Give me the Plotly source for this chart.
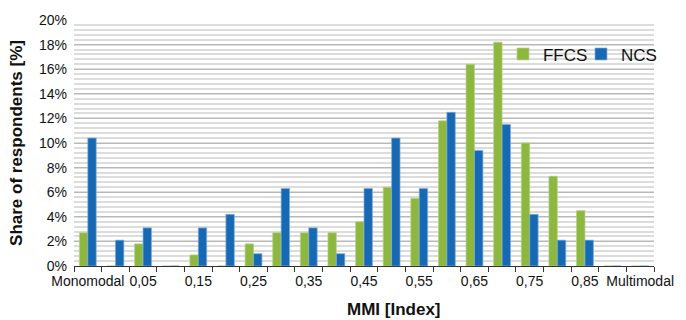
import plotly.graph_objects as go

categories = ["Monomodal", "0", "0,05", "0,1", "0,15", "0,2", "0,25", "0,3", "0,35", "0,4",
              "0,45", "0,5", "0,55", "0,6", "0,65", "0,7", "0,75", "0,8", "0,85", "0,9", "Multimodal"]
ffcs = [2.7, 0, 1.8, 0, 0.9, 0, 1.8, 2.7, 2.7, 2.7, 3.6, 6.4, 5.5, 11.8, 16.4, 18.2, 10.0, 7.3, 4.5, 0, 0]
ncs = [10.4, 2.1, 3.1, 0, 3.1, 4.2, 1.0, 6.3, 3.1, 1.0, 6.3, 10.4, 6.3, 12.5, 9.4, 11.5, 4.2, 2.1, 2.1, 0, 0]
tick_text = [c if i % 2 == 0 else "" for i, c in enumerate(categories)]
y_ticks = list(range(0, 21, 2))

GREEN = "#8DB73F"
BLUE = "#1769B4"
FONT = "Liberation Sans, Arial, sans-serif"

fig = go.Figure()
fig.add_trace(go.Bar(x=categories, y=ffcs, name="FFCS", marker_color=GREEN,
                     marker_line=dict(color="#B5D389", width=0.7)))
fig.add_trace(go.Bar(x=categories, y=ncs, name="NCS", marker_color=BLUE,
                     marker_line=dict(color="#7FAEDB", width=0.7)))

fig.update_layout(
    width=686, height=320,
    margin=dict(l=74, r=29, t=16, b=54),
    plot_bgcolor="white", paper_bgcolor="white",
    barmode="group", bargap=0.39, bargroupgap=0,
    font=dict(family=FONT, size=14, color="#111111"),
    showlegend=True,
    legend=dict(orientation="h", x=1.0086, xanchor="right", y=0.86, yanchor="middle",
                font=dict(size=17, color="#111111"), bgcolor="rgba(0,0,0,0)",
                itemwidth=30, entrywidth=33, tracegroupgap=0),
    xaxis=dict(type="category", tickmode="array", tickvals=categories, ticktext=tick_text,
               tickson="boundaries", ticks="outside", ticklen=5, tickcolor="#333333",
               showline=True, linecolor="#333333", linewidth=1, showgrid=False,
               tickangle=0, tickfont=dict(size=14), ticklabelstandoff=2),
    yaxis=dict(range=[0, 20], tickmode="array", tickvals=y_ticks,
               ticktext=[f"{v}%" for v in y_ticks],
               showgrid=True, gridcolor="#B8B8B8", gridwidth=1,
               minor=dict(dtick=0.4, tick0=0, showgrid=True, gridcolor="#DCDCDC", gridwidth=1.5),
               zeroline=False, showline=False, ticks="", ticklabelstandoff=6,
               tickfont=dict(size=14),
               title=dict(text="<b>Share of respondents [%]</b>", font=dict(size=17), standoff=12)),
)

fig.add_annotation(text="<b>MMI [Index]</b>", xref="paper", yref="paper",
                   x=(396 - 74) / (686 - 74 - 29), y=0, yshift=-43.5, yanchor="middle",
                   showarrow=False, font=dict(size=17, family=FONT, color="#111111"))

fig.write_html("out.html", post_script="document.body.style.margin='0';",
               config={"displayModeBar": False})
